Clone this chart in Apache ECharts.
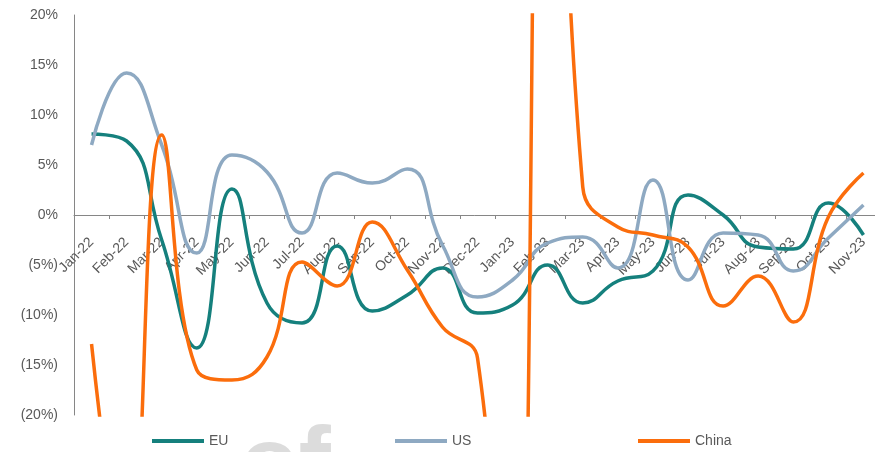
<!DOCTYPE html>
<html>
<head>
<meta charset="utf-8">
<script src="https://cdn.jsdelivr.net/npm/echarts@6/dist/echarts.min.js"></script>
<style>
  html, body { margin: 0; padding: 0; background: #fff; }
  #chart { width: 875px; height: 452px; }
</style>
</head>
<body>
<div id="chart"></div>
<script>
// Month-over-month change, %
const months = ['Jan-22','Feb-22','Mar-22','Apr-22','May-22','Jun-22','Jul-22','Aug-22','Sep-22','Oct-22','Nov-22','Dec-22',
                'Jan-23','Feb-23','Mar-23','Apr-23','May-23','Jun-23','Jul-23','Aug-23','Sep-23','Oct-23','Nov-23'];

const euValues    = [8.1, 7.4, -2.5, -13.3, 2.6, -8.8, -10.8, -3.1, -9.6, -8.0, -5.3, -9.8,
                     -9.0, -5.0, -8.8, -6.6, -5.6, 2.0, 0.0, -3.2, -3.4, 1.2, -2.0];
const usValues    = [7.0, 14.2, 7.0, -3.8, 6.0, 4.3, -1.8, 4.2, 3.2, 4.6, -3.0, -8.2,
                     -6.5, -2.8, -2.2, -5.3, 3.5, -6.5, -1.8, -2.0, -5.6, -2.3, 1.0];
const chinaValues = [-12.9, -36.0, 8.0, -15.5, -16.5, -14.2, -4.7, -7.1, -0.7, -5.5, -11.2, -14.3,
                     -60.0, 80.0, 2.8, -1.2, -2.0, -3.2, -9.1, -6.1, -10.7, -0.2, 4.2];

const yTicks = { min: -20, max: 20, step: 5 };

const textColor = '#595959';
const axisColor = '#868686';
const fontFamily = '"Liberation Sans", Arial, sans-serif';

const gridTop = 15;
const gridHeight = 400;

function pctLabel(v) {
  return v < 0 ? '(' + Math.abs(v) + '%)' : v + '%';
}

function lineSeries(name, data, color, smooth) {
  return {
    name: name,
    type: 'line',
    data: data,
    smooth: smooth,
    symbol: 'none',
    clip: true,
    lineStyle: { color: color, width: 3.5, cap: 'butt' },
    itemStyle: { color: color }
  };
}

function legendAt(name, left) {
  return {
    data: [name],
    left: left,
    top: 434,
    padding: 0,
    icon: 'rect',
    itemWidth: 52,
    itemHeight: 4,
    itemGap: 0,
    selectedMode: false,
    textStyle: { color: textColor, fontSize: 14, fontFamily: fontFamily }
  };
}

// the category axis sits on the zero line: shift it up from the grid bottom
const zeroOffset = -gridHeight * (0 - yTicks.min) / (yTicks.max - yTicks.min);

const chart = echarts.init(document.getElementById('chart'), null, { renderer: 'canvas' });

chart.setOption({
  animation: false,
  backgroundColor: '#ffffff',
  graphic: [{
    type: 'text',
    z: -10,
    silent: true,
    x: 240,
    y: 516,
    style: {
      text: 'of',
      fill: '#dcdcdc',
      verticalAlign: 'bottom',
      font: 'bold 96px "Liberation Sans", Arial, sans-serif'
    }
  }],
  grid: { left: 74, top: gridTop, width: 807, height: gridHeight, containLabel: false, outerBoundsMode: 'none' },
  legend: [legendAt('EU', 152), legendAt('US', 395), legendAt('China', 638)],
  xAxis: {
    type: 'category',
    data: months,
    boundaryGap: true,
    offset: zeroOffset,
    axisLine: { onZero: false, lineStyle: { color: axisColor, width: 1 } },
    axisTick: { show: true, inside: false, length: 4, alignWithLabel: false, lineStyle: { color: axisColor } },
    axisLabel: {
      interval: 0,
      rotate: 45,
      margin: 25,
      color: textColor,
      fontSize: 14,
      fontFamily: fontFamily
    },
    splitLine: { show: false }
  },
  yAxis: {
    type: 'value',
    min: yTicks.min,
    max: yTicks.max,
    interval: yTicks.step,
    axisLine: { show: true, lineStyle: { color: axisColor, width: 1 } },
    axisTick: { show: false },
    splitLine: { show: false },
    axisLabel: {
      formatter: pctLabel,
      color: textColor,
      fontSize: 14,
      fontFamily: fontFamily,
      margin: 16
    }
  },
  series: [
    lineSeries('EU', euValues, '#15807d', 0.5),
    lineSeries('US', usValues, '#8ea9c2', 0.5),
    lineSeries('China', chinaValues, '#fb6d0c', 0.45)
  ]
});
</script>
</body>
</html>
